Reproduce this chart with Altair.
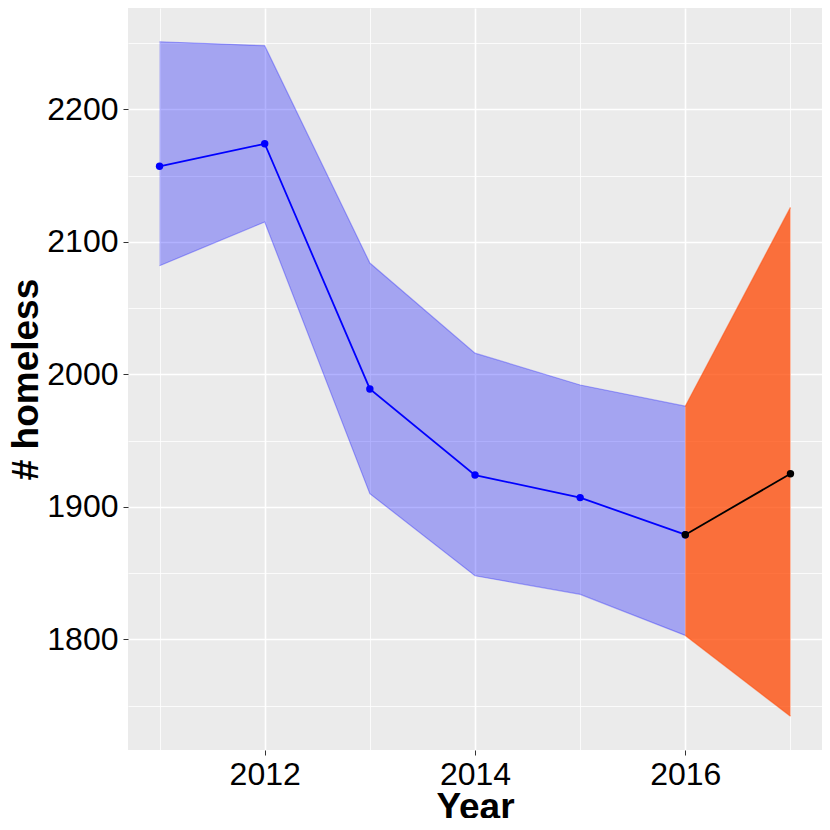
import altair as alt
import pandas as pd

# Observed series (blue) with its band
years_obs = [2011, 2012, 2013, 2014, 2015, 2016]
mean_obs = [2157, 2174, 1989, 1924, 1907, 1879]
low_obs = [2082, 2115, 1910, 1848, 1834, 1803]
high_obs = [2251, 2248, 2084, 2016, 1992, 1976]

# Forecast segment (black line, orange band)
years_fc = [2016, 2017]
mean_fc = [1879, 1925]
low_fc = [1803, 1742]
high_fc = [1976, 2126]

x_ticks = [2011, 2012, 2013, 2014, 2015, 2016, 2017]
y_ticks = [1750, 1800, 1850, 1900, 1950, 2000, 2050, 2100, 2150, 2200, 2250]

obs = pd.DataFrame({"year": years_obs, "mean": mean_obs, "low": low_obs, "high": high_obs})
fc = pd.DataFrame({"year": years_fc, "mean": mean_fc, "low": low_fc, "high": high_fc})

xmin, xmax = min(x_ticks), max(x_ticks)
xr = (xmax - xmin) * 0.05
ymin = min(low_obs + low_fc)
ymax = max(high_obs + high_fc)
yr = (ymax - ymin) * 0.05

FONT = "Liberation Sans"

xscale = alt.Scale(domain=[xmin - xr, xmax + xr], nice=False, zero=False)
yscale = alt.Scale(domain=[ymin - yr, ymax + yr], nice=False, zero=False)

major_x = "datum.value % 2 === 0"
major_y = "datum.value % 100 === 0"

xaxis = alt.Axis(
    values=x_ticks, format="d", title="Year",
    labelExpr=f"{major_x} ? datum.label : ''",
    gridWidth={"condition": {"test": major_x, "value": 1.6}, "value": 0.8},
    tickColor={"condition": {"test": major_x, "value": "#333333"}, "value": "transparent"},
    tickSize=5, labelPadding=4, labelFontSize=32, labelColor="black", labelFont=FONT,
    titleFont=FONT, titleFontSize=37, titleFontWeight="bold", titleColor="black",
    titleBaseline="alphabetic", titleY=68,
    domain=False, gridColor="white",
)
yaxis = alt.Axis(
    values=y_ticks, format="d", title="# homeless",
    labelExpr=f"{major_y} ? datum.label : ''",
    gridWidth={"condition": {"test": major_y, "value": 1.6}, "value": 0.8},
    tickColor={"condition": {"test": major_y, "value": "#333333"}, "value": "transparent"},
    tickSize=5, labelPadding=5, labelFontSize=32, labelColor="black", labelFont=FONT,
    titleFont=FONT, titleFontSize=37, titleFontWeight="bold", titleColor="black",
    titleBaseline="alphabetic", titleX=-91,
    domain=False, gridColor="white",
)

base_obs = alt.Chart(obs)
base_fc = alt.Chart(fc)

band_obs = base_obs.mark_area(color="blue", opacity=0.3).encode(
    x=alt.X("year:Q", scale=xscale, axis=xaxis),
    y=alt.Y("low:Q", scale=yscale, axis=yaxis),
    y2="high:Q",
)
edge_obs_lo = base_obs.mark_line(color="blue", opacity=0.3, strokeWidth=1.2).encode(
    x=alt.X("year:Q", scale=xscale), y=alt.Y("low:Q", scale=yscale))
edge_obs_hi = base_obs.mark_line(color="blue", opacity=0.3, strokeWidth=1.2).encode(
    x=alt.X("year:Q", scale=xscale), y=alt.Y("high:Q", scale=yscale))

band_fc = base_fc.mark_area(color="#FF4500", opacity=0.75).encode(
    x=alt.X("year:Q", scale=xscale), y=alt.Y("low:Q", scale=yscale), y2="high:Q")
edge_fc_lo = base_fc.mark_line(color="#FF4500", opacity=0.5, strokeWidth=1.2).encode(
    x=alt.X("year:Q", scale=xscale), y=alt.Y("low:Q", scale=yscale))
edge_fc_hi = base_fc.mark_line(color="#FF4500", opacity=0.5, strokeWidth=1.2).encode(
    x=alt.X("year:Q", scale=xscale), y=alt.Y("high:Q", scale=yscale))

line_obs = base_obs.mark_line(color="blue", strokeWidth=1.8).encode(
    x=alt.X("year:Q", scale=xscale), y=alt.Y("mean:Q", scale=yscale))
pts_obs = base_obs.mark_circle(color="blue", opacity=1, size=55).encode(
    x=alt.X("year:Q", scale=xscale), y=alt.Y("mean:Q", scale=yscale))
line_fc = base_fc.mark_line(color="black", strokeWidth=1.8).encode(
    x=alt.X("year:Q", scale=xscale), y=alt.Y("mean:Q", scale=yscale))
pts_fc = base_fc.mark_circle(color="black", opacity=1, size=55).encode(
    x=alt.X("year:Q", scale=xscale), y=alt.Y("mean:Q", scale=yscale))

chart = alt.layer(
    band_obs, edge_obs_lo, edge_obs_hi, band_fc, edge_fc_lo, edge_fc_hi,
    line_obs, pts_obs, line_fc, pts_fc,
).properties(
    width=694, height=742,
    autosize="none",
    padding={"left": 120, "top": 0, "right": 0, "bottom": 68},
    background="white",
).configure_view(fill="#EBEBEB", stroke=None)

chart.save("out.html", embed_options={"renderer": "svg", "actions": False})
